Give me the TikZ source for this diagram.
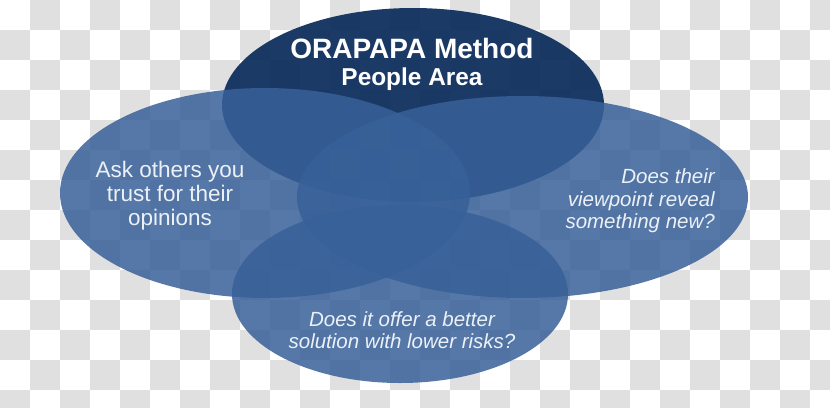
\documentclass[tikz,border=0pt]{standalone}
\usepackage{fontspec}
\setmainfont{Liberation Sans}
\definecolor{checkgray}{RGB}{224,224,224}
\definecolor{navy}{RGB}{16,48,94}
\definecolor{petal}{RGB}{56,97,153}
\definecolor{softwhite}{RGB}{236,241,247}
\begin{document}
\begin{tikzpicture}[x=1pt,y=-1pt,
  topoval/.style={fill=navy,fill opacity=0.95},
  petaloval/.style={fill=petal,fill opacity=0.85},
  titletext/.style={text=white,font=\bfseries,inner sep=0pt},
  bodytext/.style={text=softwhite,inner sep=0pt,font=\fontsize{22.5}{24}\selectfont},
  asktext/.style={text=softwhite,inner sep=0pt,font=\itshape\fontsize{20.5}{22.5}\selectfont}]
\useasboundingbox (0,0) rectangle (830,407);
\fill[white] (0,0) rectangle (830,407);
\begin{scope}
\clip (0,0) rectangle (830,407);
\foreach \i in {0,...,27}{
  \foreach \j in {0,...,13}{
    \pgfmathtruncatemacro\parity{mod(\i+\j,2)}
    \ifnum\parity=1 \fill[checkgray] (\i*30,\j*30) rectangle ++(30,30);\fi
  }
}
\end{scope}
% ellipses
\fill[topoval] (413,105) ellipse [x radius=191pt, y radius=97pt];
\fill[petaloval] (265,193) ellipse [x radius=205pt, y radius=105pt];
\fill[petaloval] (522.5,197) ellipse [x radius=225.5pt, y radius=101pt];
\fill[petaloval] (400,294) ellipse [x radius=168pt, y radius=89pt];
% texts
\node[titletext,anchor=base,font=\bfseries\fontsize{28}{30}\selectfont] (title) at (412,58) {ORAPAPA Method};
\node[titletext,anchor=base,font=\bfseries\fontsize{24.4}{26}\selectfont] (subtitle) at (412,85) {People Area};
\node[bodytext,align=center] (ask) at (170,196) {Ask others you\\trust for their\\opinions};
\node[asktext,align=right,anchor=east] (reveal) at (715,201) {Does their\\viewpoint reveal\\something new?};
\node[asktext,align=center] (better) at (402,330) {Does it offer a better\\solution with lower risks?};
\end{tikzpicture}
\end{document}
